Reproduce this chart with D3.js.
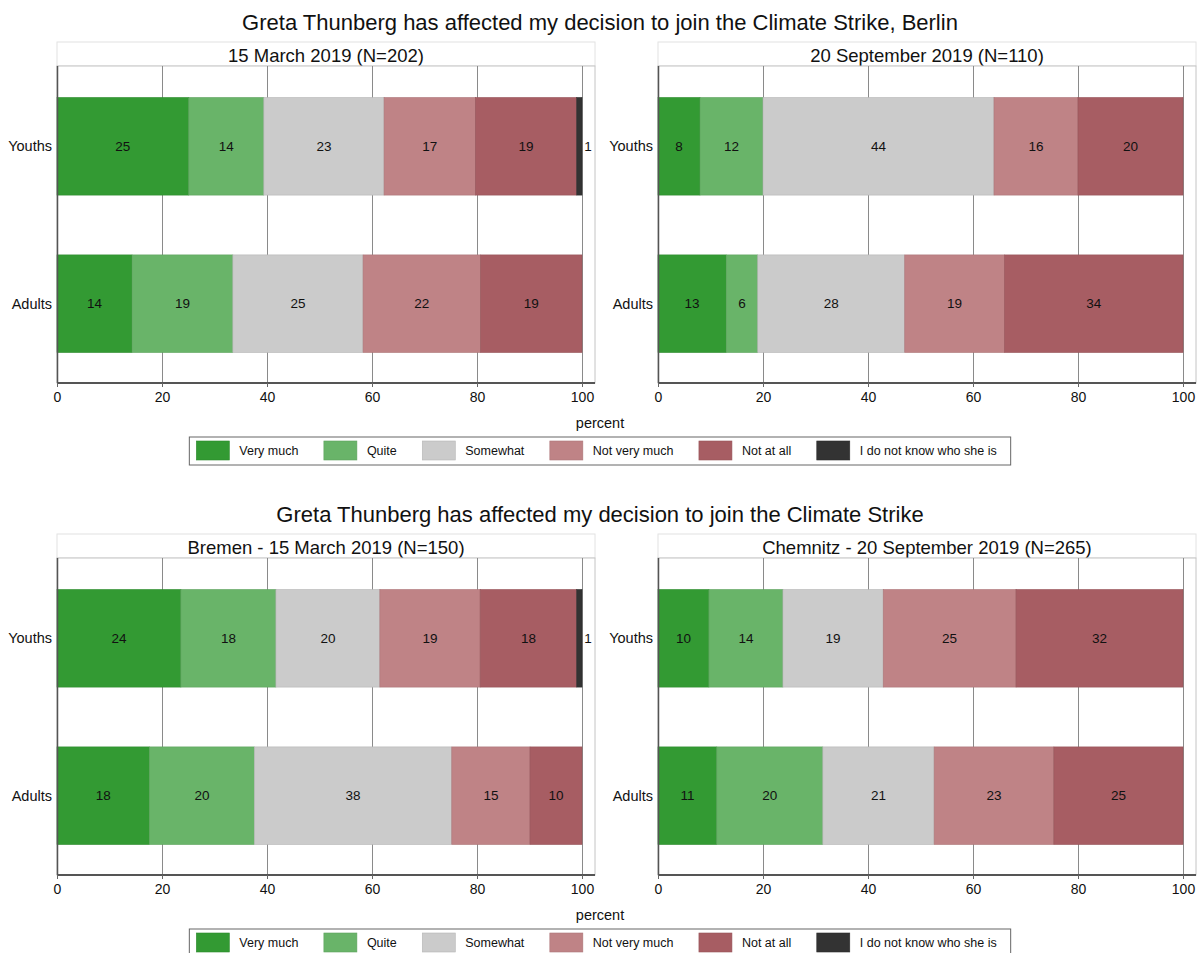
<!DOCTYPE html>
<html><head><meta charset="utf-8">
<script src="https://cdn.jsdelivr.net/npm/d3@7"></script>
<style>
body{margin:0;background:#fff}
svg{display:block;font-family:"Liberation Sans",Arial,Helvetica,sans-serif}
</style>
</head><body>
<svg id="chart" width="1199" height="953"></svg>
<script>
// ---- data ----
const categories = ["Very much","Quite","Somewhat","Not very much","Not at all","I do not know who she is"];
const colors = ["#339a33","#69b469","#cbcbcb","#bf8386","#a75d63","#333333"];
const groups = ["Youths","Adults"];
const tickValues = [0,20,40,60,80,100];
const chartTitles = [
  "Greta Thunberg has affected my decision to join the Climate Strike, Berlin",
  "Greta Thunberg has affected my decision to join the Climate Strike"
];
const panelTitles = [
  ["15 March 2019 (N=202)","20 September 2019 (N=110)"],
  ["Bremen - 15 March 2019 (N=150)","Chemnitz - 20 September 2019 (N=265)"]
];
const berlinMarchYouths  = [25.1,14.3,22.9,17.4,19.3,1.0];
const berlinMarchAdults  = [14.3,19.2,24.8,22.4,19.3,0];
const berlinSeptYouths   = [8,12,44,16,20,0];
const berlinSeptAdults   = [13,6,28,19,34,0];
const bremenMarchYouths  = [23.6,18.1,19.8,19.1,18.4,1.0];
const bremenMarchAdults  = [17.6,20.0,37.6,14.9,9.9,0];
const chemnitzSeptYouths = [9.7,14.1,19.1,25.3,31.8,0];
const chemnitzSeptAdults = [11.2,20.2,21.2,22.8,24.6,0];
const axisTitle = "percent";

const panelData = [
  [[berlinMarchYouths,berlinMarchAdults],[berlinSeptYouths,berlinSeptAdults]],
  [[bremenMarchYouths,bremenMarchAdults],[chemnitzSeptYouths,chemnitzSeptAdults]]
];

// ---- layout ----
const svg = d3.select("#chart");
const blockOffset = [0, 492];
const panelLeft = [57, 658];
const plotW = 538, scaleW = 525;
const stripTop = 42, plotTop = 66, plotBottom = 383;
const fmt = d3.format(".0f");
const color = d3.scaleOrdinal().domain(categories).range(colors);

blockOffset.forEach((oy, bi) => {
  const g = svg.append("g").attr("transform", `translate(0,${oy})`);
  g.append("text").attr("x", 600).attr("y", 22).attr("text-anchor","middle")
    .attr("dominant-baseline","central").attr("font-size", 22).attr("fill","#111")
    .text(chartTitles[bi]);

  panelLeft.forEach((px, pi) => {
    const p = g.append("g").attr("transform", `translate(${px},0)`);
    const x = d3.scaleLinear().domain([0,100]).range([0, scaleW]);
    const y = d3.scaleBand().domain(groups).range([plotTop, plotBottom + 1])
      .paddingInner(0.38).paddingOuter(0.2);

    // strip
    p.append("rect").attr("x",0).attr("y",stripTop).attr("width",plotW).attr("height",plotTop-stripTop)
      .attr("fill","#fff").attr("stroke","#e2e2e2").attr("stroke-width",1);
    p.append("text").attr("x", plotW/2).attr("y",(stripTop+plotTop)/2 + 1).attr("text-anchor","middle")
      .attr("dominant-baseline","central").attr("font-size",18.5).attr("fill","#111")
      .text(panelTitles[bi][pi]);

    // plot frame (top/right light)
    p.append("rect").attr("x",0).attr("y",plotTop).attr("width",plotW).attr("height",plotBottom-plotTop)
      .attr("fill","#fff").attr("stroke","#c4c4c4").attr("stroke-width",1);

    // gridlines
    p.append("g").selectAll("line").data(tickValues.filter(d=>d>0)).join("line")
      .attr("x1",d=>x(d)+0.5).attr("x2",d=>x(d)+0.5).attr("y1",plotTop).attr("y2",plotBottom)
      .attr("stroke","#8a8a8a").attr("stroke-width",1);

    // bars
    panelData[bi][pi].forEach((vals, gi) => {
      let cum = 0;
      const segs = vals.map((v,i)=>{const s={cat:categories[i],v,x0:cum,x1:cum+v}; cum+=v; return s;})
        .filter(s=>s.v>0);
      const bg = p.append("g");
      bg.selectAll("rect").data(segs).join("rect")
        .attr("x",d=>x(d.x0)).attr("width",d=>x(d.x1)-x(d.x0))
        .attr("y",y(groups[gi])).attr("height",y.bandwidth())
        .attr("fill",d=>color(d.cat))
        .attr("stroke",d=>d3.color(color(d.cat)).darker(0.3)).attr("stroke-width",0.6);
      bg.selectAll("text").data(segs).join("text")
        .attr("x",d=> (x(d.x1)-x(d.x0)) < 14 ? x(d.x1)+6 : (x(d.x0)+x(d.x1))/2)
        .attr("y",y(groups[gi])+y.bandwidth()/2).attr("text-anchor","middle")
        .attr("dominant-baseline","central").attr("font-size",13.5).attr("fill","#111")
        .text(d=>fmt(d.v));
    });

    // y labels
    p.append("g").selectAll("text").data(groups).join("text")
      .attr("x",-5).attr("y",d=>y(d)+y.bandwidth()/2).attr("text-anchor","end")
      .attr("dominant-baseline","central").attr("font-size",14.5).attr("fill","#111").text(d=>d);

    // axes
    const ax = p.append("g").attr("transform",`translate(0,${plotBottom})`)
      .call(d3.axisBottom(x).tickValues(tickValues).tickSize(4).tickPadding(5).tickSizeOuter(0));
    ax.attr("font-size",14).attr("font-family","'Liberation Sans',Arial,sans-serif");
    ax.select(".domain").attr("stroke","#555").attr("stroke-width",2).attr("d",`M0,0H${plotW}`);
    ax.selectAll(".tick line").attr("stroke","#666");
    ax.selectAll(".tick text").attr("fill","#111");
    p.append("line").attr("x1",0.5).attr("x2",0.5).attr("y1",plotTop).attr("y2",plotBottom)
      .attr("stroke","#555").attr("stroke-width",1.5);
  });

  // axis title
  g.append("text").attr("x",600).attr("y",423).attr("text-anchor","middle")
    .attr("dominant-baseline","central").attr("font-size",14.5).attr("fill","#111").text(axisTitle);

  // legend
  const lg = g.append("g");
  const box = lg.append("rect").attr("y",437).attr("height",28).attr("fill","#fff")
    .attr("stroke","#666").attr("stroke-width",1);
  let cx = 0;
  const items = lg.append("g");
  categories.forEach((c,i)=>{
    const it = items.append("g").attr("transform",`translate(${cx},0)`);
    it.append("rect").attr("x",0).attr("y",441).attr("width",33).attr("height",19)
      .attr("fill",color(c)).attr("stroke",d3.color(color(c)).darker(0.3)).attr("stroke-width",0.6);
    const t = it.append("text").attr("x",43).attr("y",451).attr("dominant-baseline","central")
      .attr("font-size",12.5).attr("fill","#111").text(c);
    const w = t.node().getComputedTextLength();
    cx += 43 + w + (i < categories.length-1 ? 25.5 : 0);
  });
  const totalW = cx;
  const padL = 7, padR = 14;
  const lx = 600 - (totalW + padL + padR)/2;
  box.attr("x",lx).attr("width",totalW+padL+padR);
  items.attr("transform",`translate(${lx+padL},0)`);
});
</script>
</body></html>
